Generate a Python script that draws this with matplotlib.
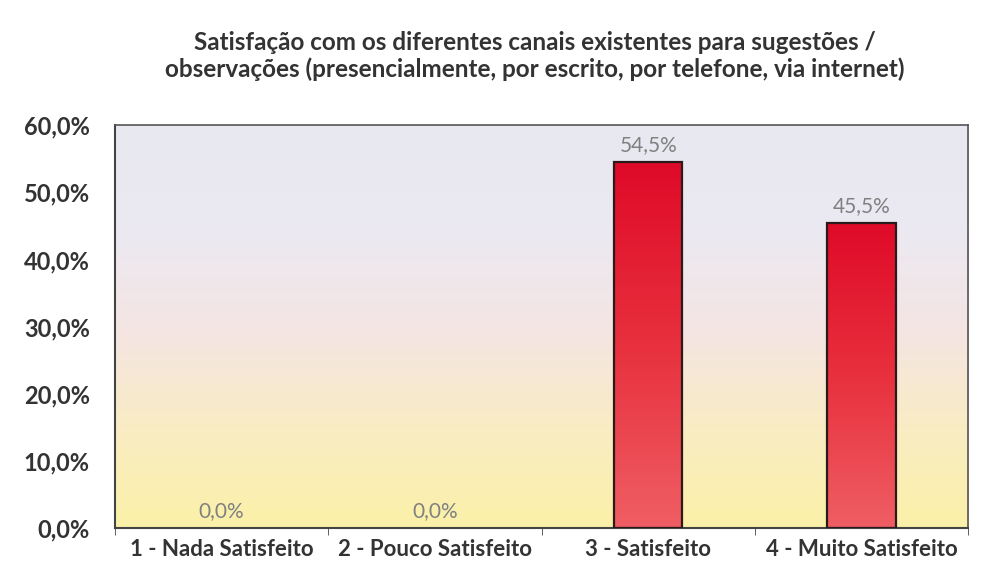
import numpy as np
import matplotlib.pyplot as plt
from matplotlib.colors import LinearSegmentedColormap

categories = ['1 - Nada Satisfeito', '2 - Pouco Satisfeito', '3 - Satisfeito', '4 - Muito Satisfeito']
values = [0.0, 0.0, 54.5, 45.5]
labels = ['0,0%', '0,0%', '54,5%', '45,5%']
yticks = [0, 10, 20, 30, 40, 50, 60]
title = ('Satisfação com os diferentes canais existentes para sugestões /\n'
         'observações (presencialmente, por escrito, por telefone, via internet)')

plt.rcParams['font.family'] = ['Lato', 'DejaVu Sans']

fig = plt.figure(figsize=(9.82, 5.72), dpi=100)
ax = fig.add_axes([0.117, 0.077, 0.869, 0.704])

x = np.arange(len(categories))
ax.set_xlim(-0.5, 3.5)
ax.set_ylim(0, 60)

# background gradient (bottom yellow -> pink -> lavender top)
bg = LinearSegmentedColormap.from_list('bg', ['#fbf1a8', '#f9ecc4', '#f4e5e4', '#ebe9f2', '#e8e8f1'])
grad = np.linspace(0, 1, 256).reshape(-1, 1)
ax.imshow(grad, cmap=bg, aspect='auto', origin='lower',
          extent=[-0.5, 3.5, 0, 60], zorder=0)

bars = ax.bar(x, values, width=0.32, color='none', edgecolor='#2a1a1a', linewidth=1.6, zorder=3)

# red gradient inside bars
red = LinearSegmentedColormap.from_list('red', ['#ef5e64', '#e8303e', '#df0a28'])
for b in bars:
    h = b.get_height()
    if h <= 0:
        b.set_linewidth(0)
        continue
    im = ax.imshow(grad, cmap=red, aspect='auto', origin='lower',
                   extent=[b.get_x(), b.get_x() + b.get_width(), 0, h], zorder=2)
    im.set_clip_path(b)

for xi, v, lab in zip(x, values, labels):
    ax.text(xi, v + 1.0, lab, ha='center', va='bottom', fontsize=15, color='#808080')

ax.set_yticks(yticks)
ax.set_yticklabels([f'{t},0%' for t in yticks], fontsize=17, fontweight='bold', color='#333333')
ax.tick_params(axis='y', length=0, pad=18)

ax.set_xticks(x)
ax.set_xticklabels(categories, fontsize=16, fontweight='bold', color='#333333')
ax.set_xticks(np.arange(-0.5, 4, 1), minor=True)
ax.tick_params(axis='x', which='major', length=0, pad=8)
ax.tick_params(axis='x', which='minor', length=5, color='#444444')

for s in ['left', 'bottom']:
    ax.spines[s].set_color('#444444')
    ax.spines[s].set_linewidth(1.5)
for s in ['top', 'right']:
    ax.spines[s].set_color('#555555')
    ax.spines[s].set_linewidth(1.2)

fig.text(0.545, 0.902, title, ha='center', va='center', fontsize=17.5,
         fontweight='bold', color='#333333', linespacing=1.2)

fig.savefig('out.png', dpi=100, facecolor='white')
